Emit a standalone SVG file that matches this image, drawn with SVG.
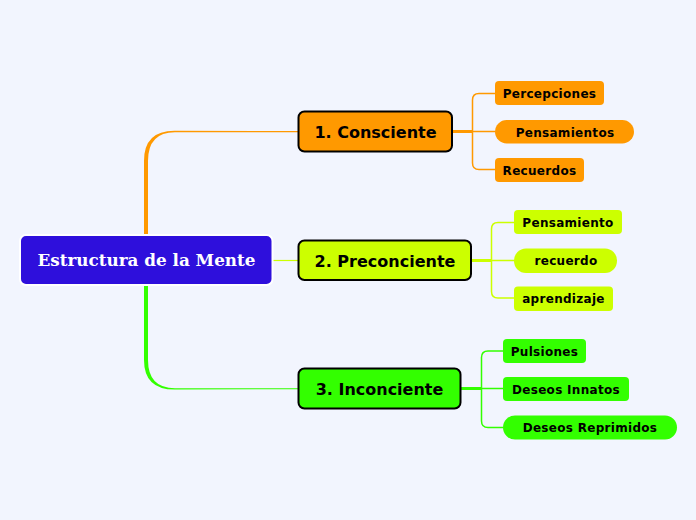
<svg xmlns="http://www.w3.org/2000/svg" width="696" height="520" viewBox="0 0 696 520">
<style>
.main{stroke:#000;stroke-width:2}
.mt{font-family:"DejaVu Sans",Verdana,sans-serif;font-weight:bold;font-size:16px;fill:#000;text-anchor:middle}
.ct{font-family:"DejaVu Sans",Verdana,sans-serif;font-weight:bold;font-size:12px;fill:#000;text-anchor:middle;letter-spacing:0.3px}
.rt{font-family:"DejaVu Serif","Liberation Serif",serif;font-weight:bold;font-size:16.8px;fill:#fff;text-anchor:middle}
.c1{fill:none;stroke:#ff9900}
.c2{fill:none;stroke:#ccff00}
.c3{fill:none;stroke:#33ff00}
</style>
<rect width="696" height="520" fill="#f2f5fe"/>
<g id="connectors">
<path d="M144,235 L144,161 Q144,130.5 175,130.8 L298,131 L298,132.2 L175,132.2 Q148,132.2 148,161 L148,235 Z" fill="#ff9900"/>
<path d="M144,285 L144,360 Q144,389.8 175,389.6 L298,389.2 L298,388.2 L175,388.2 Q148,388.2 148,360 L148,285 Z" fill="#33ff00"/>
<path class="c2" d="M272,260.5 H298" stroke-width="1.2"/>
<path class="c1" d="M452,131.5 H472" stroke-width="3"/>
<path class="c1" d="M495,93.5 H479 Q472.5,93.5 472.5,100 V163 Q472.5,169.5 479,169.5 H495 M472.5,131.5 H495" stroke-width="1.5"/>
<path class="c2" d="M471,260.5 H491" stroke-width="3"/>
<path class="c2" d="M514,222.5 H498 Q491.5,222.5 491.5,229 V291.5 Q491.5,298 498,298 H514 M491.5,260.5 H514" stroke-width="1.5"/>
<path class="c3" d="M461,388.5 H481" stroke-width="3"/>
<path class="c3" d="M503,351 H488 Q481.5,351 481.5,357.5 V421 Q481.5,427.5 488,427.5 H503 M481.5,388.5 H503" stroke-width="1.5"/>
</g>
<g id="root">
<rect x="20" y="235" width="252.5" height="50" rx="6" fill="#2e0fdc" stroke="#fff" stroke-width="2"/>
<text class="rt" x="146.5" y="265.8">Estructura de la Mente</text>
</g>
<g id="n1">
<rect class="main" x="298.5" y="111.5" width="153.5" height="40" rx="6" fill="#ff9900"/>
<text class="mt" x="375.5" y="137.5">1. Consciente</text>
</g>
<g id="n2">
<rect class="main" x="298.5" y="240.5" width="172.5" height="39.5" rx="6" fill="#ccff00"/>
<text class="mt" x="385" y="266.5">2. Preconciente</text>
</g>
<g id="n3">
<rect class="main" x="298.5" y="368.5" width="162" height="40" rx="6" fill="#33ff00"/>
<text class="mt" x="379.5" y="394.5">3. Inconciente</text>
</g>
<g id="n1a">
<rect x="495" y="81" width="109" height="24" rx="4" fill="#ff9900"/>
<text class="ct" x="549.5" y="97.5">Percepciones</text>
</g>
<g id="n1b">
<rect x="495" y="120" width="139" height="23.5" rx="11.75" fill="#ff9900"/>
<text class="ct" x="565" y="136.5">Pensamientos</text>
</g>
<g id="n1c">
<rect x="495" y="158" width="89" height="24" rx="4" fill="#ff9900"/>
<text class="ct" x="539.5" y="174.5">Recuerdos</text>
</g>
<g id="n2a">
<rect x="514" y="210" width="108" height="24" rx="4" fill="#ccff00"/>
<text class="ct" x="568" y="226.5">Pensamiento</text>
</g>
<g id="n2b">
<rect x="514" y="248.5" width="103" height="24.5" rx="12" fill="#ccff00"/>
<text class="ct" x="566" y="265">recuerdo</text>
</g>
<g id="n2c">
<rect x="514" y="286.5" width="99" height="24.5" rx="4" fill="#ccff00"/>
<text class="ct" x="563.5" y="303">aprendizaje</text>
</g>
<g id="n3a">
<rect x="503" y="339" width="83" height="24" rx="4" fill="#33ff00"/>
<text class="ct" x="544.5" y="355.5">Pulsiones</text>
</g>
<g id="n3b">
<rect x="503" y="377" width="126" height="24" rx="4" fill="#33ff00"/>
<text class="ct" x="566" y="393.5">Deseos Innatos</text>
</g>
<g id="n3c">
<rect x="503" y="415.5" width="174" height="24" rx="12" fill="#33ff00"/>
<text class="ct" x="590" y="432">Deseos Reprimidos</text>
</g>
</svg>
